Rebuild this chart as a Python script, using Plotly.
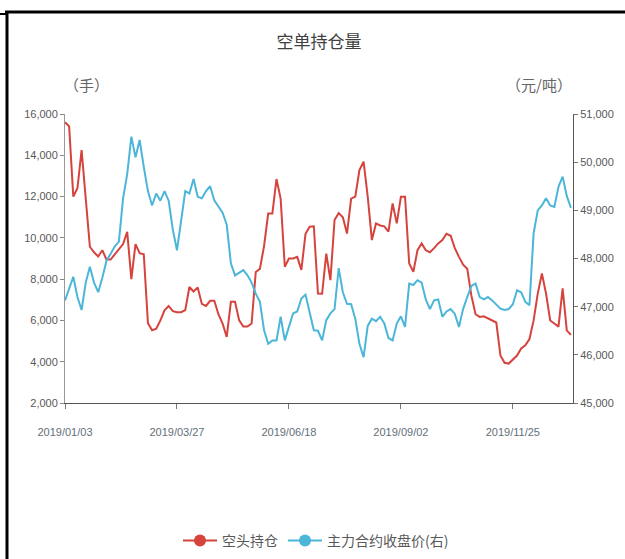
import plotly.graph_objects as go

# Trading-day index (every 2 trading days from 2019/01/03)
day_index = list(range(0, 245, 2))

tick_days = [0, 54, 108, 162, 216]
tick_labels = ["2019/01/03", "2019/03/27", "2019/06/18", "2019/09/02", "2019/11/25"]

# 空头持仓 (手), left axis
short_pos = [
    15600, 15400, 12000, 12400, 14250, 11800, 9570, 9300, 9100, 9400,
    8950, 8950, 9200, 9500, 9700, 10290, 8000, 9700, 9260, 9200,
    5860, 5520, 5600, 6000, 6490, 6700, 6450, 6400, 6400, 6500,
    7620, 7400, 7600, 6800, 6700, 6950, 6950, 6300, 5850, 5200,
    6900, 6900, 6000, 5700, 5700, 5850, 8350, 8500, 9600, 11180,
    11180, 12850, 11900, 8600, 9000, 9000, 9080, 8450, 10200, 10540,
    10560, 7300, 7290, 9240, 7950, 10860, 11200, 11000, 10210, 11900,
    12000, 13280, 13690, 12000, 9890, 10700, 10600, 10560, 10300, 11670,
    10700, 11990, 11990, 8760, 8350, 9400, 9730, 9400, 9300, 9500,
    9730, 9890, 10200, 10100, 9500, 9080, 8700, 8500, 7200, 6300,
    6170, 6200, 6100, 6000, 5900, 4300, 3950, 3910, 4100, 4300,
    4640, 4800, 5100, 6000, 7300, 8270, 7300, 6000, 5850, 5700,
    7550, 5520, 5300,
]

# 主力合约收盘价 (元/吨), right axis
close_price = [
    47130, 47380, 47620, 47200, 46930, 47500, 47830, 47500, 47300, 47600,
    47950, 48100, 48250, 48350, 49250, 49750, 50530, 50100, 50460, 49900,
    49400, 49100, 49350, 49200, 49400, 49200, 48600, 48170, 48800, 49400,
    49350, 49650, 49280, 49250, 49400, 49500, 49210, 49070, 48950, 48700,
    47900, 47650, 47700, 47760, 47650, 47500, 47270, 47100, 46510, 46230,
    46300, 46300, 46790, 46300, 46580, 46860, 46900, 47170, 47250, 46900,
    46510, 46500, 46300, 46720, 46860, 46950, 47800, 47300, 47060, 47050,
    46750, 46230, 45950, 46600, 46750, 46700, 46790, 46650, 46350, 46300,
    46650, 46800, 46580, 47480, 47450, 47550, 47500, 47150, 46950, 47130,
    47150, 46790, 46900, 46950, 46850, 46580, 46950, 47200, 47430, 47480,
    47200, 47150, 47200, 47130, 47050, 46960, 46930, 46950, 47050, 47340,
    47300, 47100, 47030, 48520, 49000, 49100, 49250, 49100, 49070, 49490,
    49700, 49300, 49050,
]

series_names = ["空头持仓", "主力合约收盘价(右)"]
RED = "#d6433c"
BLUE = "#4cb6d9"

W, H = 625, 559
ML, MR, MT, MB = 65, 52, 114, 156
PW, PH = W - ML - MR, H - MT - MB


def px_x(x):
    return (x - ML) / PW


def px_y(y):
    return (H - MB - y) / PH


FONT = "Liberation Sans, Arial, sans-serif"
CJK = "Noto Sans CJK SC, sans-serif"

fig = go.Figure()
fig.add_trace(go.Scatter(x=day_index, y=close_price, mode="lines", yaxis="y2",
                         line=dict(color=BLUE, width=2), showlegend=False))
fig.add_trace(go.Scatter(x=day_index, y=short_pos, mode="lines",
                         line=dict(color=RED, width=2), showlegend=False))
# legend entries
fig.add_trace(go.Scatter(x=[None], y=[None], mode="lines+markers", name=series_names[0],
                         line=dict(color=RED, width=2), marker=dict(size=12, color=RED)))
fig.add_trace(go.Scatter(x=[None], y=[None], mode="lines+markers", name=series_names[1],
                         line=dict(color=BLUE, width=2), marker=dict(size=12, color=BLUE)))

fig.update_layout(
    template="none",
    width=W, height=H,
    margin=dict(l=ML, r=MR, t=MT, b=MB, autoexpand=False),
    paper_bgcolor="white", plot_bgcolor="white",
    title=dict(text="空单持仓量", x=319 / W, xanchor="center", y=1 - 42 / H, yanchor="middle",
               font=dict(family=CJK, size=17, color="#404040")),
    xaxis=dict(range=[0, 245], tickvals=tick_days, ticktext=tick_labels, automargin=False,
               showgrid=False, zeroline=False, showline=True, linecolor="#555", linewidth=1,
               ticks="outside", ticklen=5, tickcolor="#777", ticklabelstandoff=14,
               tickfont=dict(family=FONT, size=11, color="#5f6f7a")),
    yaxis=dict(range=[2000, 16000], dtick=2000, tickformat=",d", automargin=False,
               showgrid=False, zeroline=False, showline=True, linecolor="#999", linewidth=1,
               ticks="outside", ticklen=4, tickcolor="#888",
               tickfont=dict(family=FONT, size=11, color="#595959")),
    yaxis2=dict(range=[45000, 51000], dtick=1000, tickformat=",d", overlaying="y", side="right",
                automargin=False,
                showgrid=False, zeroline=False, showline=True, linecolor="#555", linewidth=1,
                ticks="outside", ticklen=4, tickcolor="#777",
                tickfont=dict(family=FONT, size=11, color="#595959")),
    legend=dict(orientation="h", x=px_x(316), xanchor="center", y=px_y(541), yanchor="middle",
                font=dict(family=CJK, size=14, color="#595959"), itemwidth=34,
                bgcolor="rgba(0,0,0,0)"),
    showlegend=True,
    annotations=[
        dict(text="（手）", x=px_x(62), y=px_y(72), xref="paper", yref="paper",
             showarrow=False, font=dict(family=CJK, size=15, color="#666")),
        dict(text="（元/吨）", x=px_x(574), y=px_y(72), xref="paper", yref="paper",
             showarrow=False, font=dict(family=CJK, size=15, color="#666")),
    ],
    shapes=[
        dict(type="line", xref="paper", yref="paper", x0=px_x(5), x1=px_x(626),
             y0=px_y(12), y1=px_y(12), line=dict(color="black", width=3)),
        dict(type="line", xref="paper", yref="paper", x0=px_x(7), x1=px_x(7),
             y0=px_y(11), y1=px_y(560), line=dict(color="black", width=3)),
        dict(type="line", xref="paper", yref="paper", x0=px_x(0), x1=px_x(7),
             y0=px_y(14), y1=px_y(14), line=dict(color="black", width=2)),
    ],
)

fig.write_html("out.html",
               config={"displayModeBar": False},
               post_script="document.body.style.margin='0';document.body.style.overflow='hidden';")
